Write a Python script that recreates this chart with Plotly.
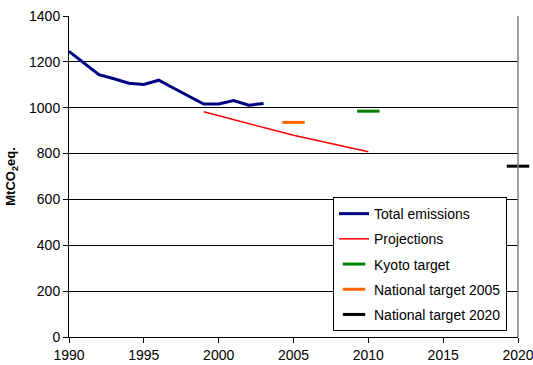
import plotly.graph_objects as go

# Historical emissions
years_total = [1990, 1991, 1992, 1993, 1994, 1995, 1996, 1997, 1998, 1999, 2000, 2001, 2002, 2003]
total_emissions = [1246, 1195, 1144, 1126, 1107, 1101, 1120, 1085, 1052, 1016, 1016, 1031, 1011, 1018]

# Projected path
years_proj = [1999, 2005, 2010]
projections = [982, 880, 808]

# Targets
kyoto_year, kyoto_value = [2010], [985]
nat2005_year, nat2005_value = [2005], [936]
nat2020_year, nat2020_value = [2020], [745]

y_ticks = [0, 200, 400, 600, 800, 1000, 1200, 1400]
x_ticks = [1990, 1995, 2000, 2005, 2010, 2015, 2020]

font_family = "Liberation Sans, Arial, sans-serif"

fig = go.Figure()
fig.add_trace(go.Scatter(x=years_total, y=total_emissions, mode="lines", name="Total emissions",
                         legendgroup="a", line=dict(color="#000080", width=3)))
fig.add_trace(go.Scatter(x=years_proj, y=projections, mode="lines", name="Projections",
                         legendgroup="b", line=dict(color="#ff0000", width=1.5)))


def target(x, y, name, color, group):
    return go.Scatter(x=x, y=y, mode="markers", name=name, cliponaxis=False, legendgroup=group,
                      marker=dict(symbol="line-ew", size=16, color=color,
                                  line=dict(color=color, width=3)))


fig.add_trace(target(kyoto_year, kyoto_value, "Kyoto target", "#008000", "c"))
fig.add_trace(target(nat2005_year, nat2005_value, "National target 2005", "#ff6600", "d"))
fig.add_trace(target(nat2020_year, nat2020_value, "National target 2020", "#000000", "e"))

fig.update_layout(
    width=533, height=365,
    margin=dict(l=69, r=15, t=16, b=28),
    paper_bgcolor="white", plot_bgcolor="white",
    font=dict(family=font_family, size=14, color="black"),
    showlegend=True,
    legend=dict(x=0.588, y=0.436, xanchor="left", yanchor="top",
                bgcolor="white", bordercolor="black", borderwidth=1,
                font=dict(size=14), tracegroupgap=4),
    xaxis=dict(range=[1990, 2020], tickvals=x_ticks, showgrid=False, automargin=False,
               ticklabeloverflow="allow",
               showline=True, linecolor="black", linewidth=1,
               ticks="outside", ticklen=5, tickcolor="black", zeroline=False),
    yaxis=dict(range=[0, 1400], tickvals=y_ticks, showgrid=True, automargin=False,
               gridcolor="black", gridwidth=1,
               showline=True, linecolor="black", linewidth=1,
               ticks="outside", ticklen=5, tickcolor="black", zeroline=False,
               title=dict(text="<b>MtCO<sub>2</sub>eq.</b>", font=dict(size=13), standoff=10)),
    shapes=[dict(type="line", xref="paper", yref="paper", x0=1, x1=1, y0=0, y1=1,
                 line=dict(color="#808080", width=1.5))],
)

fig.write_html("out.html")
